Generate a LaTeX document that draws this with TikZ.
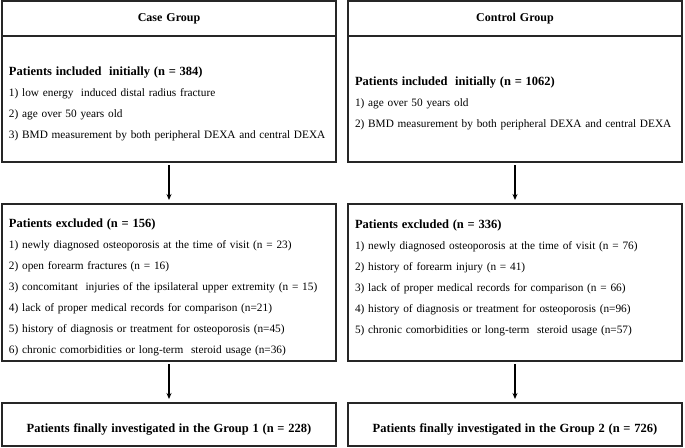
\documentclass[tikz,border=0pt]{standalone}
\usepackage{fontspec}
\setmainfont{Liberation Serif}
\usetikzlibrary{arrows.meta,positioning}
\newcommand{\boxtitle}[1]{{\fontsize{12.5}{21}\selectfont\bfseries\rule{0pt}{18pt}#1}}

\begin{document}
\begin{tikzpicture}[x=1pt,y=1pt,
    box/.style={draw=black!85,line width=1.2pt,rectangle,outer sep=0pt,
                minimum width=334pt,inner xsep=7pt,text width=320pt,
                font=\fontsize{11.3}{21}\selectfont},
    head/.style={box,minimum height=35pt,align=center,
                 font=\bfseries\fontsize{12}{14}\selectfont},
    list/.style={box,align=left},
    flow/.style={-{Stealth[length=6pt,width=5pt]},line width=1.5pt,
                 shorten <=3pt,shorten >=4pt}]
  \useasboundingbox (0,0) rectangle (685,-447);

  % case group
  \node[head]  (caseHead)  at (169,-18.5)                    {Case Group};
  \node[list,minimum height=126pt] (caseIncl) [below=0pt of caseHead]
      {\boxtitle{Patients included\ \ initially (n = 384)}\\
       1) low energy\ \ induced distal radius fracture\\
       2) age over 50 years old\\
       3) BMD measurement by both peripheral DEXA and central DEXA};
  \node[list,minimum height=157pt] (caseExcl) [below=42pt of caseIncl]
      {\boxtitle{Patients excluded (n = 156)}\\
       1) newly diagnosed osteoporosis at the time of visit (n = 23)\\
       2) open forearm fractures (n = 16)\\
       3) concomitant\ \ injuries of the ipsilateral upper extremity (n = 15)\\
       4) lack of proper medical records for comparison (n=21)\\
       5) history of diagnosis or treatment for osteoporosis (n=45)\\
       6) chronic comorbidities or long-term\ \ steroid usage (n=36)};
  \node[box,minimum height=43pt,align=center] (caseFinal) [below=42pt of caseExcl]
      {\boxtitle{Patients finally investigated in the Group 1 (n = 228)}};

  % control group
  \node[head]  (ctrlHead)  [right=12pt of caseHead]          {Control Group};
  \node[list,minimum height=126pt] (ctrlIncl) [below=0pt of ctrlHead]
      {\boxtitle{Patients included\ \ initially (n = 1062)}\\
       1) age over 50 years old\\
       2) BMD measurement by both peripheral DEXA and central DEXA};
  \node[list,minimum height=157pt] (ctrlExcl) [below=42pt of ctrlIncl]
      {\boxtitle{Patients excluded (n = 336)}\\
       1) newly diagnosed osteoporosis at the time of visit (n = 76)\\
       2) history of forearm injury (n = 41)\\
       3) lack of proper medical records for comparison (n = 66)\\
       4) history of diagnosis or treatment for osteoporosis (n=96)\\
       5) chronic comorbidities or long-term\ \ steroid usage (n=57)\\ \mbox{}};
  \node[box,minimum height=43pt,align=center] (ctrlFinal) [below=42pt of ctrlExcl]
      {\boxtitle{Patients finally investigated in the Group 2 (n = 726)}};

  \draw[flow] (caseIncl) -- (caseExcl);
  \draw[flow] (caseExcl) -- (caseFinal);
  \draw[flow] (ctrlIncl) -- (ctrlExcl);
  \draw[flow] (ctrlExcl) -- (ctrlFinal);
\end{tikzpicture}
\end{document}
